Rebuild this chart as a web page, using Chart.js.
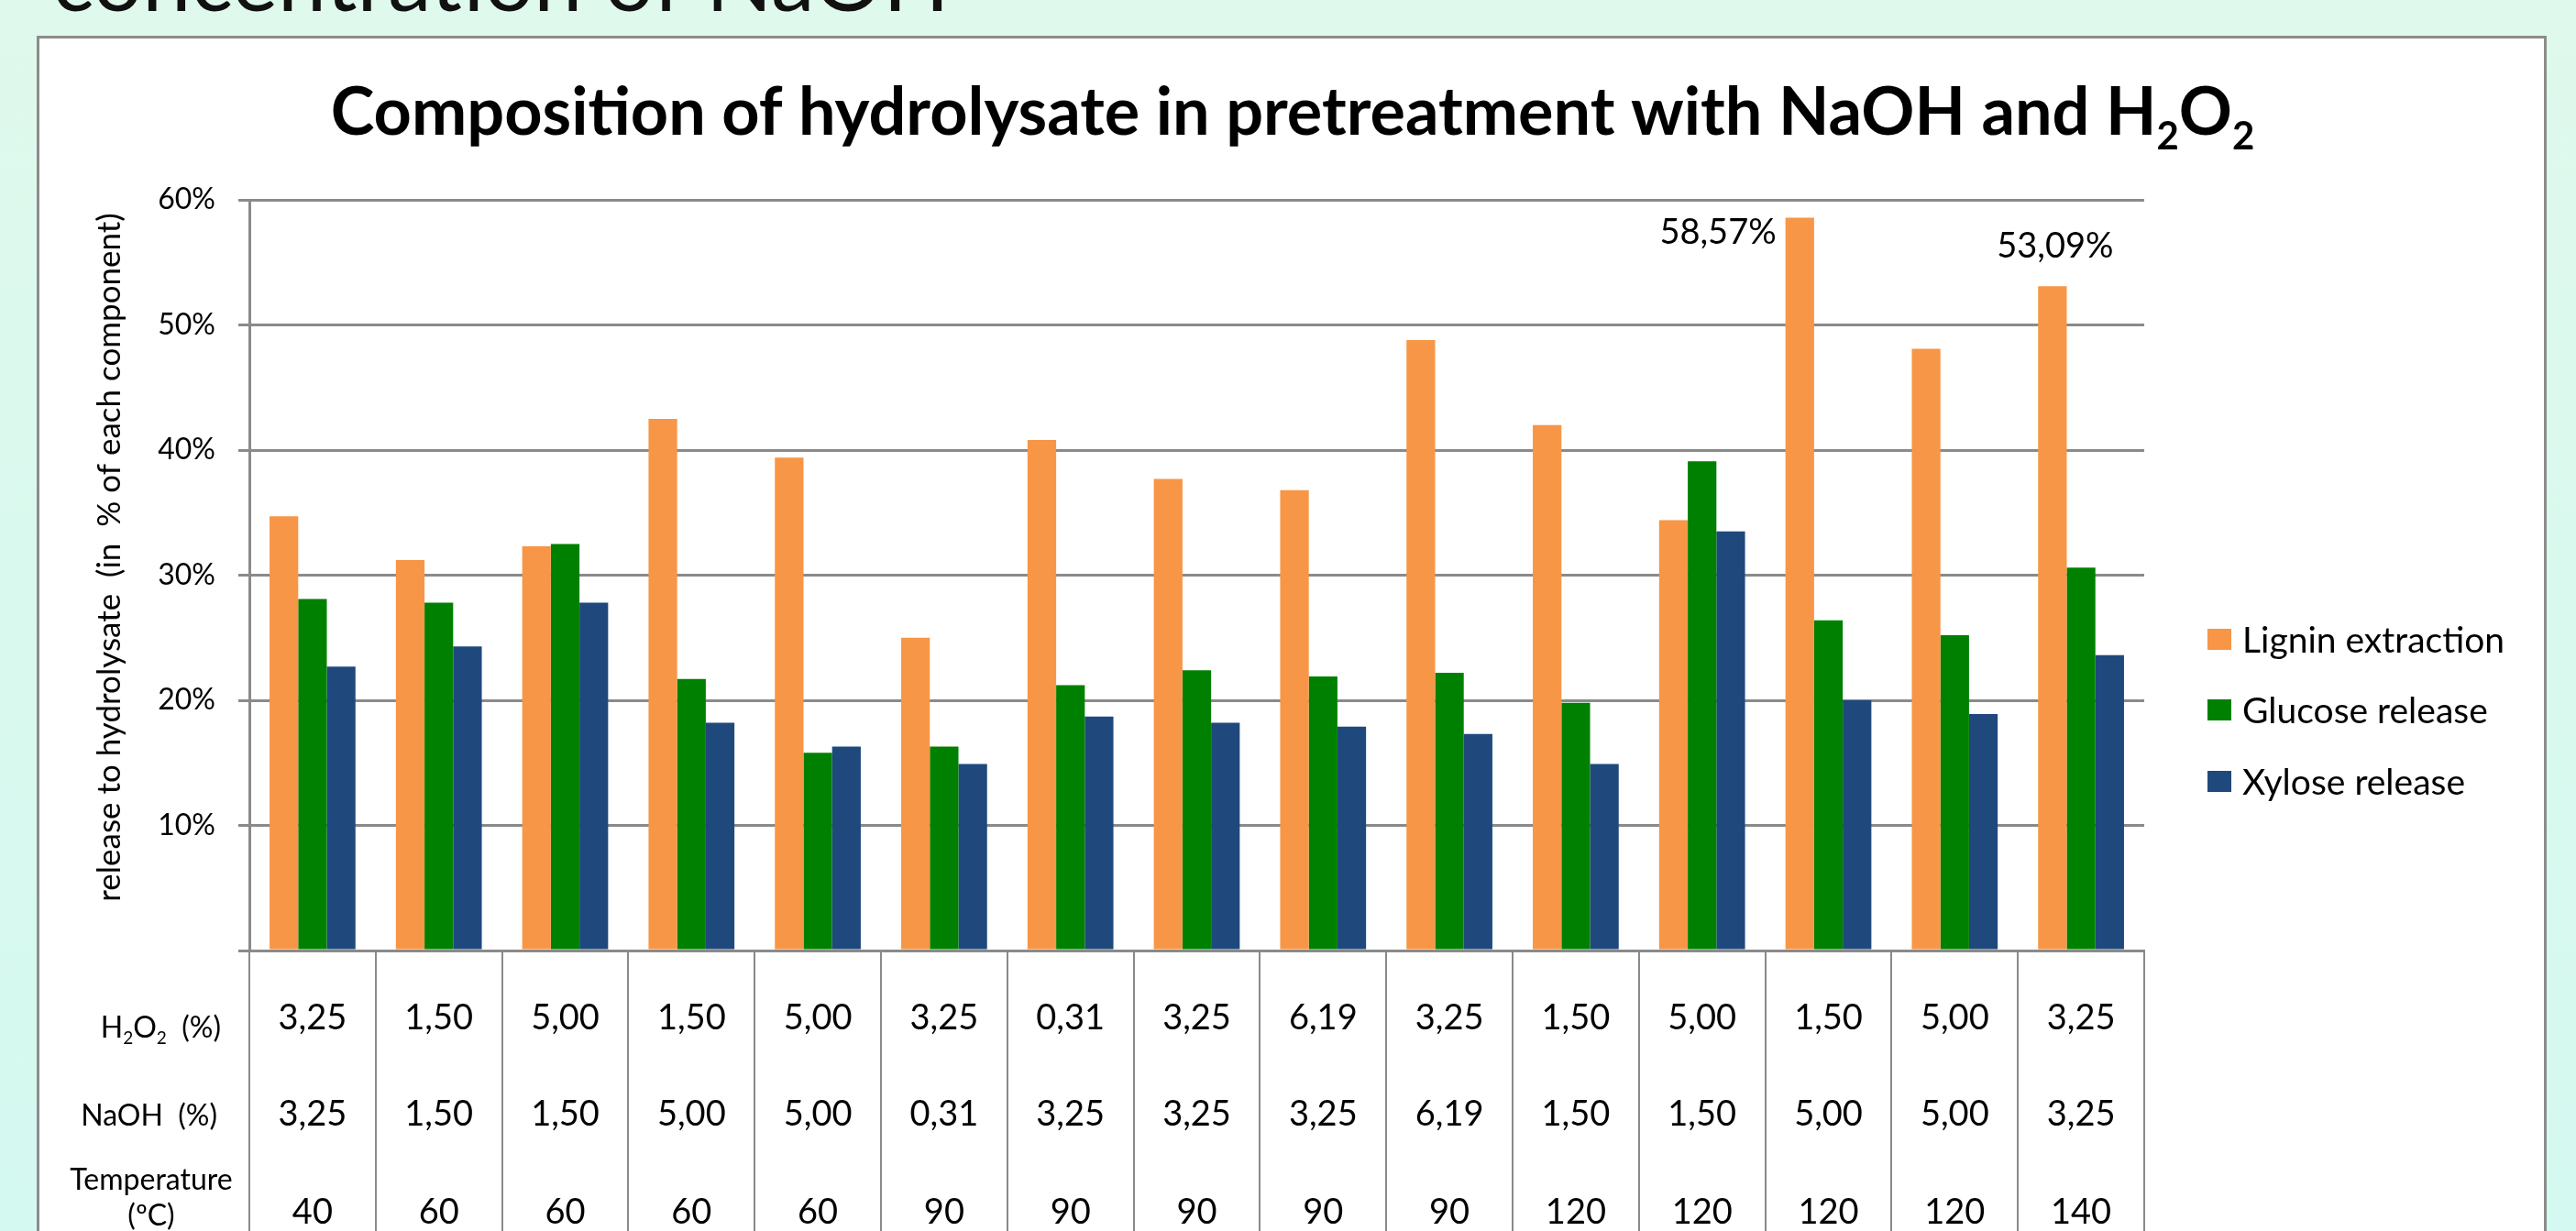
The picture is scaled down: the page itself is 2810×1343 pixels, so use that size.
<!DOCTYPE html>
<html>
<head>
<meta charset="utf-8">
<script src="https://cdn.jsdelivr.net/npm/chart.js@4.4.1/dist/chart.umd.min.js"></script>
<style>
  html, body { margin: 0; padding: 0; }
  body {
    width: 2810px; height: 1343px; overflow: hidden; position: relative;
    background: linear-gradient(to bottom, #dff9ec, #d4f9f0);
    font-family: Lato, sans-serif;
  }
  #frame {
    position: absolute; left: 40px; top: 39px; width: 2738px; height: 1400px;
    box-sizing: border-box; background: #fff; border: 3px solid #8c8c8c;
  }
  #chart { position: absolute; left: 0; top: 0; }
</style>
</head>
<body>
<div id="frame"></div>
<canvas id="chart" width="2810" height="1343"></canvas>
<script>
// conditions of each run (shown in the table under the bars)
var h2o2 = ['3,25', '1,50', '5,00', '1,50', '5,00', '3,25', '0,31', '3,25', '6,19', '3,25', '1,50', '5,00', '1,50', '5,00', '3,25'];
var naoh = ['3,25', '1,50', '1,50', '5,00', '5,00', '0,31', '3,25', '3,25', '3,25', '6,19', '1,50', '1,50', '5,00', '5,00', '3,25'];
var temperature = ['40', '60', '60', '60', '60', '90', '90', '90', '90', '90', '120', '120', '120', '120', '140'];

// release to hydrolysate, % of each component
var lignin = [34.7, 31.2, 32.3, 42.5, 39.4, 25.0, 40.8, 37.7, 36.8, 48.8, 42.0, 34.4, 58.57, 48.1, 53.09];
var glucose = [28.1, 27.8, 32.5, 21.7, 15.8, 16.3, 21.2, 22.4, 21.9, 22.2, 19.8, 39.1, 26.4, 25.2, 30.6];
var xylose = [22.7, 24.3, 27.8, 18.2, 16.3, 14.9, 18.7, 18.2, 17.9, 17.3, 14.9, 33.5, 20.0, 18.9, 23.6];

var seriesNames = ['Lignin extraction', 'Glucose release', 'Xylose release'];
var seriesColors = ['#F79646', '#008000', '#1F497D'];
var labelledBars = [12, 14]; // lignin bars that carry a value label

var categories = temperature.map(function (t, i) { return h2o2[i] + ' / ' + naoh[i] + ' / ' + t; });

var FONT = 'Lato, "Open Sans", sans-serif';

function runsWidth(ctx, runs, size, weight) {
  var w = 0;
  runs.forEach(function (r) {
    ctx.font = weight + ' ' + (r.sub ? Math.round(size * 0.58) : size) + 'px ' + FONT;
    w += ctx.measureText(r.t).width;
  });
  return w;
}

function drawRuns(ctx, runs, x, y, size, weight) {
  ctx.textAlign = 'left';
  ctx.textBaseline = 'alphabetic';
  runs.forEach(function (r) {
    ctx.font = weight + ' ' + (r.sub ? Math.round(size * 0.58) : size) + 'px ' + FONT;
    ctx.fillText(r.t, x, r.sub ? y + size * 0.22 : y);
    x += ctx.measureText(r.t).width;
  });
}

function fmt(v) {
  return v.toFixed(2).replace('.', ',') + '%';
}

var decorPlugin = {
  id: 'decor',
  afterDraw: function (chart) {
    var ctx = chart.ctx;
    var area = chart.chartArea;
    var xs = chart.scales.x;
    ctx.save();

    // slide heading, mostly cut off at the top
    ctx.font = '95px ' + FONT;
    ctx.textAlign = 'left';
    ctx.textBaseline = 'alphabetic';
    ctx.fillStyle = '#111';
    ctx.fillText('concentration of NaOH', 57, 12);
    ctx.fillStyle = '#000';

    // chart title with subscripts
    var title = [{ t: 'Composition of hydrolysate in pretreatment with NaOH and H' }, { t: '2', sub: 1 }, { t: 'O' }, { t: '2', sub: 1 }];
    var tw = runsWidth(ctx, title, 72, 'bold');
    drawRuns(ctx, title, 1410 - tw / 2, 147, 72, 'bold');

    // y axis title
    ctx.save();
    ctx.translate(120, 608);
    ctx.rotate(-Math.PI / 2);
    ctx.font = '35px ' + FONT;
    ctx.textAlign = 'center';
    ctx.textBaseline = 'middle';
    ctx.fillText('release to hydrolysate  (in  % of each component)', 0, 0);
    ctx.restore();

    // value labels on the two highest lignin bars
    var meta = chart.getDatasetMeta(0);
    ctx.font = '38px ' + FONT;
    ctx.textBaseline = 'alphabetic';
    var b12 = meta.data[labelledBars[0]];
    ctx.textAlign = 'right';
    ctx.fillText(fmt(lignin[labelledBars[0]]), b12.x - b12.width / 2 - 10, b12.y + 28);
    var b14 = meta.data[labelledBars[1]];
    ctx.textAlign = 'center';
    ctx.fillText(fmt(lignin[labelledBars[1]]), b14.x + 3, b14.y - 31);

    // data table under the axis
    var rows = [h2o2, naoh, temperature];
    var rowBase = [area.bottom + 86, area.bottom + 191, area.bottom + 298];
    ctx.font = '38px ' + FONT;
    ctx.textAlign = 'center';
    rows.forEach(function (row, r) {
      row.forEach(function (txt, i) {
        ctx.fillText(txt, xs.getPixelForValue(i), rowBase[r]);
      });
    });

    // row headers
    var hLabel = [{ t: 'H' }, { t: '2', sub: 1 }, { t: 'O' }, { t: '2', sub: 1 }, { t: '  (%)' }];
    var hw = runsWidth(ctx, hLabel, 32, 'normal');
    drawRuns(ctx, hLabel, 241 - hw, area.bottom + 95, 32, 'normal');
    ctx.font = '32px ' + FONT;
    ctx.textAlign = 'right';
    ctx.fillText('NaOH  (%)', 237, area.bottom + 191);
    ctx.textAlign = 'center';
    ctx.fillText('Temperature', 165, area.bottom + 261);
    ctx.fillText('(\u00baC)', 165, area.bottom + 300);

    // legend
    ctx.font = '39px ' + FONT;
    ctx.textAlign = 'left';
    var legendTop = [686, 763, 841];
    seriesNames.forEach(function (name, i) {
      ctx.fillStyle = seriesColors[i];
      ctx.fillRect(2408, legendTop[i], 26, 23);
      ctx.fillStyle = '#000';
      ctx.fillText(name, 2446, legendTop[i] + 26);
    });

    ctx.restore();
  }
};

var ctx = document.getElementById('chart').getContext('2d');
var chartInstance = new Chart(ctx, {
  type: 'bar',
  data: {
    labels: categories,
    datasets: [
      { label: seriesNames[0], data: lignin, backgroundColor: seriesColors[0] },
      { label: seriesNames[1], data: glucose, backgroundColor: seriesColors[1] },
      { label: seriesNames[2], data: xylose, backgroundColor: seriesColors[2] }
    ]
  },
  options: {
    responsive: false,
    animation: false,
    devicePixelRatio: 1,
    layout: { padding: { top: 218, right: 471, bottom: 0, left: 0 } },
    datasets: { bar: { categoryPercentage: 0.68, barPercentage: 1.0 } },
    plugins: {
      legend: { display: false },
      title: { display: false },
      tooltip: { enabled: false }
    },
    scales: {
      x: {
        ticks: { display: false },
        grid: { display: true, offset: true, drawOnChartArea: false, drawTicks: true, tickLength: 306, color: '#8a8a8a', lineWidth: 2 },
        border: { display: true, color: '#8a8a8a', width: 3 },
        afterFit: function (s) { s.height = 306; }
      },
      y: {
        min: 0,
        max: 60,
        ticks: {
          stepSize: 10,
          padding: 25,
          color: '#000',
          font: { family: FONT, size: 32 },
          callback: function (v) { return v === 0 ? '' : v + '%'; }
        },
        grid: { color: '#8a8a8a', lineWidth: 3, tickLength: 12 },
        border: { color: '#8a8a8a', width: 3 },
        afterFit: function (s) { s.width = 272; }
      }
    }
  },
  plugins: [decorPlugin]
});
</script>
</body>
</html>
